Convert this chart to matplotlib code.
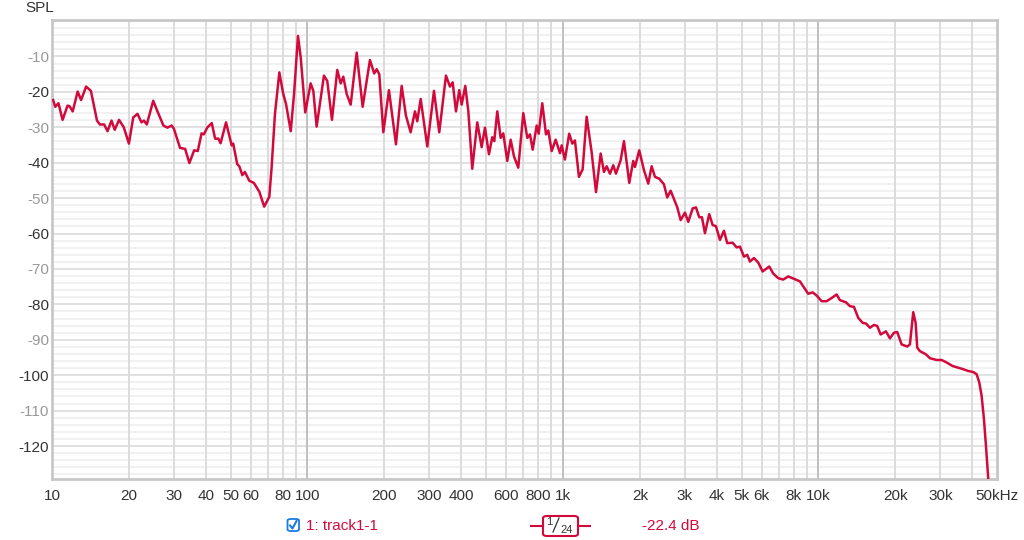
import numpy as np
import matplotlib
matplotlib.use("Agg")
import matplotlib.pyplot as plt
from matplotlib.patches import FancyBboxPatch
from matplotlib.lines import Line2D

plt.rcParams["font.family"] = ["Liberation Sans", "DejaVu Sans"]

# frequency response (Hz, dB)
freq = [10.1, 10.3, 10.6, 11.0, 11.5, 11.7, 12.05, 12.6, 13.0, 13.6,
        14.2, 15.0, 15.4, 16.0, 16.5, 17.1, 17.6, 18.3, 19.1, 20.0,
        20.8, 21.6, 22.4, 22.9, 23.5, 24.9, 25.8, 27.3, 28.3, 29.4,
        30.0, 31.7, 33.2, 34.5, 36.0, 37.2, 38.5, 39.3, 40.5, 42.2,
        43.5, 44.8, 45.7, 48.0, 50.5, 51.2, 53.1, 54.1, 55.6, 56.9,
        59.2, 61.7, 64.8, 67.7, 70.9, 72.4, 74.6, 77.6, 80.4, 82.4,
        86.0, 88.6, 91.8, 94.1, 98.0, 102.9, 105.4, 108.6, 116.0, 119.5,
        124.7, 130.8, 134.9, 138.1, 142.4, 147.6, 155.8, 164.4, 175.6, 182.5,
        186.6, 191.0, 198.1, 208.4, 222.0, 233.7, 242.9, 253.4, 263.4, 269.0,
        277.4, 294.4, 312.7, 328.0, 348.4, 361.2, 370.1, 381.3, 392.8, 401.4,
        414.6, 426.0, 441.6, 461.9, 480.6, 495.1, 513.3, 528.8, 538.4, 553.2,
        570.4, 584.0, 605.4, 624.2, 643.1, 668.5, 699.3, 725.1, 742.9, 761.2,
        789.2, 803.5, 829.9, 858.1, 876.1, 903.4, 936.4, 973.5, 988.4, 1018,
        1058, 1088, 1114, 1155, 1194, 1238, 1295, 1347, 1405, 1447,
        1483, 1528, 1574, 1612, 1682, 1733, 1818, 1884, 1914, 1989,
        2075, 2157, 2224, 2292, 2382, 2485, 2560, 2640, 2802, 2889,
        3003, 3094, 3219, 3316, 3416, 3500, 3596, 3738, 3854, 3970,
        4116, 4267, 4396, 4615, 4784, 4930, 5110, 5264, 5394, 5592,
        5813, 6048, 6420, 6655, 6962, 7282, 7618, 8464, 9121, 9490,
        9840, 10292, 10767, 11265, 11782, 12138, 12812, 13283, 13772, 14316,
        14894, 15349, 15913, 16495, 16991, 17520, 18377, 19050, 19749, 20344,
        21167, 22265, 22810, 23498, 24012, 24363, 24960, 26348, 27316, 29014,
        30355, 31755, 33513, 34930, 36874, 38576, 40357, 41613, 42602, 43525,
        44436, 45250, 46199, 46906]
spl = [-22.3, -24.2, -23.2, -27.9, -23.9, -24.0, -25.5, -19.9, -22.3, -18.5,
       -19.7, -28.1, -29.2, -29.2, -31.1, -28.1, -30.7, -27.9, -30.0, -34.6,
       -27.2, -26.2, -28.6, -28.1, -29.2, -22.5, -25.3, -29.5, -30.1, -29.5,
       -30.4, -35.8, -36.1, -40.1, -36.5, -36.7, -31.7, -32.0, -30.1, -28.8,
       -33.2, -33.2, -34.5, -28.6, -35.1, -34.6, -40.4, -41.0, -43.5, -42.6,
       -45.1, -45.7, -48.2, -52.4, -49.6, -41.2, -26.2, -14.5, -20.6, -23.4,
       -31.1, -20.6, -4.2, -10.3, -25.8, -17.6, -19.7, -29.8, -15.4, -16.9,
       -27.9, -13.8, -17.6, -15.7, -20.6, -23.6, -8.9, -24.2, -11.0, -14.8,
       -13.6, -15.0, -31.4, -19.5, -34.8, -18.3, -26.7, -31.4, -25.5, -28.3,
       -22.0, -35.4, -19.7, -31.4, -15.4, -18.5, -17.3, -25.5, -19.5, -23.6,
       -18.3, -25.3, -41.7, -28.6, -35.6, -30.1, -37.6, -32.8, -33.9, -25.5,
       -33.0, -31.7, -39.5, -33.5, -38.2, -41.4, -26.0, -33.0, -32.0, -36.3,
       -29.5, -31.8, -23.2, -32.0, -30.9, -36.7, -33.5, -37.3, -35.1, -39.1,
       -31.8, -34.6, -33.7, -44.0, -41.9, -27.0, -37.0, -48.3, -37.4, -42.6,
       -41.0, -43.1, -40.7, -43.1, -39.3, -33.9, -45.7, -39.5, -41.2, -36.5,
       -42.1, -45.9, -41.0, -44.0, -44.5, -46.1, -49.8, -47.9, -52.6, -56.2,
       -54.1, -56.7, -52.9, -52.6, -55.4, -55.4, -59.9, -54.5, -57.6, -57.9,
       -61.8, -59.2, -62.7, -62.6, -63.9, -63.7, -66.5, -66.0, -67.9, -66.9,
       -68.2, -70.7, -69.3, -71.3, -72.6, -73.0, -72.1, -73.5, -77.0, -76.6,
       -77.5, -79.1, -79.1, -78.2, -77.2, -78.8, -79.4, -80.5, -80.7, -83.8,
       -85.2, -85.4, -86.6, -85.8, -86.1, -88.5, -87.6, -89.6, -88.0, -87.8,
       -91.3, -91.9, -91.3, -82.2, -85.2, -92.2, -93.2, -94.1, -95.2, -95.7,
       -95.7, -96.4, -97.4, -97.8, -98.3, -98.8, -99.1, -99.7, -102.0, -105.8,
       -112.3, -119.8, -129.2, -136.0]

xtick_vals = [10, 20, 30, 40, 50, 60, 80, 100, 200, 300, 400, 600, 800,
              1000, 2000, 3000, 4000, 5000, 6000, 8000, 10000, 20000, 30000, 50000]
xtick_labels = ["10", "20", "30", "40", "50", "60", "80", "100", "200", "300",
                "400", "600", "800", "1k", "2k", "3k", "4k", "5k", "6k", "8k",
                "10k", "20k", "30k", "50kHz"]
ytick_vals = [-10, -20, -30, -40, -50, -60, -70, -80, -90, -100, -110, -120]

red = "#d20a3c"

fig = plt.figure(figsize=(10.24, 5.4), dpi=100)
ax = fig.add_axes([52 / 1024, 1 - 479 / 540, 945 / 1024, 459 / 540])
ax.set_xscale("log")
ax.set_xlim(10, 50000)
ax.set_ylim(-129.3, 0.3)

# grid
for v in np.arange(-128, 1, 2):
    if v % 10 == 0:
        ax.axhline(v, color="#dcdcdc", lw=1.2, zorder=1)
    else:
        ax.axhline(v, color="#efefef", lw=1.2, zorder=1)
for dec in [10, 100, 1000, 10000]:
    for m in range(1, 10):
        f = dec * m
        if f <= 10 or f >= 50000:
            continue
        if m == 1:
            ax.axvline(f, color="#c0c0c0", lw=1.4, zorder=1)
        else:
            ax.axvline(f, color="#dcdcdc", lw=1.4, zorder=1)

ax.plot(freq, spl, color=red, lw=1.8, zorder=3, solid_joinstyle="round")

ax.set_xticks(xtick_vals)
ax.set_xticklabels(xtick_labels)
ax.xaxis.set_minor_locator(matplotlib.ticker.NullLocator())
ax.set_yticks(ytick_vals)
ax.set_yticklabels([str(v) for v in ytick_vals])
for lab, v in zip(ax.get_yticklabels(), ytick_vals):
    lab.set_color("#333333" if v % 20 == 0 else "#999999")
for lab in ax.get_xticklabels():
    lab.set_color("#333333")
ax.tick_params(axis="both", length=0, labelsize=11)
ax.tick_params(axis="x", pad=7)
ax.tick_params(axis="y", pad=2)

for s in ax.spines.values():
    s.set_color("#c8c8c8")
    s.set_linewidth(2)

fig.text(25 / 1024, 1 - 8 / 540, "SPL", fontsize=11, color="#333333",
         ha="left", va="center")

# legend row at the bottom
ly = 1 - 526 / 540
cb = FancyBboxPatch((287.5 / 1024, 1 - 531 / 540), 11.5 / 1024, 12 / 540,
                    boxstyle="round,pad=0,rounding_size=0.003",
                    transform=fig.transFigure, fc="white", ec="#1a7be0", lw=1.3)
fig.add_artist(cb)
fig.add_artist(Line2D([290 / 1024, 292.5 / 1024, 296.5 / 1024],
                      [1 - 525.5 / 540, 1 - 528.5 / 540, 1 - 521 / 540],
                      transform=fig.transFigure, color="#1a7be0", lw=1.5))
fig.text(306 / 1024, ly, "1: track1-1", fontsize=11, color=red,
         ha="left", va="center")

fig.add_artist(Line2D([531 / 1024, 543 / 1024], [ly, ly],
                      transform=fig.transFigure, color=red, lw=1.5))
fig.add_artist(Line2D([578 / 1024, 590 / 1024], [ly, ly],
                      transform=fig.transFigure, color=red, lw=1.5))
box = FancyBboxPatch((543 / 1024, 1 - 536 / 540), 35 / 1024, 20 / 540,
                     boxstyle="round,pad=0,rounding_size=0.004",
                     transform=fig.transFigure, fc="white", ec=red, lw=1.5)
fig.add_artist(box)
fig.text(549 / 1024, 1 - 522 / 540, "1", fontsize=8, color="#333333",
         ha="center", va="center")
fig.add_artist(Line2D([553 / 1024, 559 / 1024], [1 - 532 / 540, 1 - 518 / 540],
                      transform=fig.transFigure, color="#333333", lw=0.9))
fig.text(567 / 1024, 1 - 530 / 540, "24", fontsize=8, color="#333333",
         ha="center", va="center")

fig.text(642 / 1024, ly, "-22.4 dB", fontsize=11, color=red,
         ha="left", va="center")

fig.savefig("out.png", dpi=100, facecolor="white")
